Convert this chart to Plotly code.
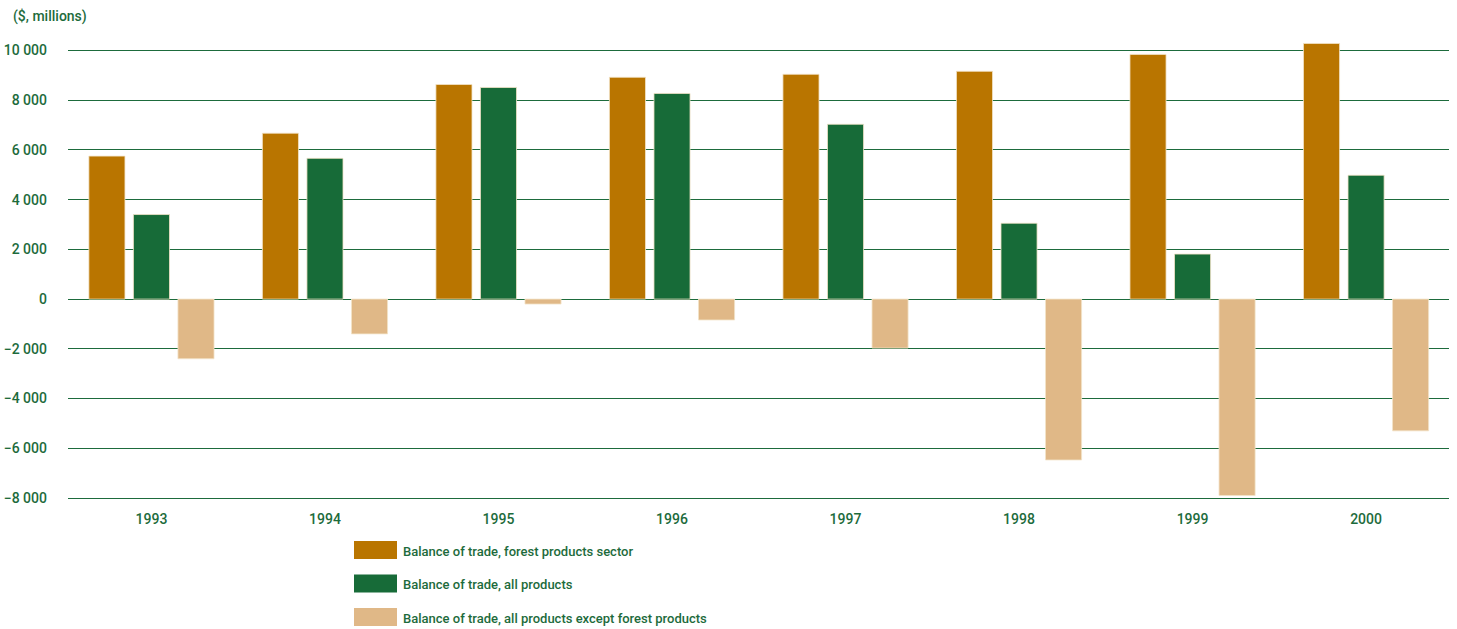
import plotly.graph_objects as go

years = ["1993", "1994", "1995", "1996", "1997", "1998", "1999", "2000"]
forest_sector = [5750, 6670, 8630, 8920, 9040, 9160, 9840, 10280]
all_products = [3400, 5660, 8510, 8270, 7030, 3050, 1810, 4980]
except_forest = [-2400, -1400, -200, -840, -1970, -6470, -7900, -5300]

series_names = [
    "Balance of trade, forest products sector",
    "Balance of trade, all products",
    "Balance of trade, all products except forest products",
]

y_ticks = [-8000, -6000, -4000, -2000, 0, 2000, 4000, 6000, 8000, 10000]
y_ticktext = ["\u22128 000", "\u22126 000", "\u22124 000", "\u22122 000", "0",
              "2 000", "4 000", "6 000", "8 000", "10 000"]

colors = ["#b97500", "#176b38", "#e0b887"]
green_text = "#1d6b3c"
font_family = "Roboto, sans-serif"
fnt = dict(size=14, color=green_text, family=font_family, weight=500)
legend_fnt = dict(fnt, size=13)

fig = go.Figure()
for name, vals, col in zip(series_names, [forest_sector, all_products, except_forest], colors):
    fig.add_trace(go.Bar(
        x=years, y=vals, name=name,
        marker=dict(color=col, line=dict(color="#f3e3c8", width=0.8)),
        showlegend=False,
    ))

# legend drawn as big swatches like the original
for i, (name, col) in enumerate(zip(series_names, colors)):
    y0 = 541 + i * 33.5
    fig.add_shape(type="rect", xref="paper", yref="paper",
                  x0=(354 - 68) / 1381, x1=(397 - 68) / 1381,
                  y0=1 - (y0 + 18 - 38) / 460, y1=1 - (y0 - 38) / 460,
                  fillcolor=col, line=dict(width=0))
    fig.add_annotation(text=name, xref="paper", yref="paper",
                       x=(401 - 68) / 1381, y=1 - (y0 + 10 - 38) / 460,
                       xanchor="left", yanchor="middle", showarrow=False,
                       font=legend_fnt)

fig.add_annotation(text="($, millions)", xref="paper", yref="paper",
                   x=-(68 - 11) / 1381, y=1 - (17 - 38) / 460,
                   xanchor="left", yanchor="middle", showarrow=False,
                   font=fnt)

fig.update_layout(
    width=1457, height=629,
    margin=dict(l=68, r=8, t=38, b=131),
    paper_bgcolor="white", plot_bgcolor="white",
    barmode="group", bargap=0.23, bargroupgap=0.19,
    font=fnt,
)
fig.update_xaxes(range=[-0.481, 7.478], showgrid=False, showline=True,
                 linecolor="#1d6b3c", linewidth=1,
                 ticks="", ticklabelstandoff=8, automargin=False, tickfont=fnt)
fig.update_yaxes(range=[-8000, 10500], tickvals=y_ticks, ticktext=y_ticktext,
                 showgrid=True, gridcolor="#1d6b3c", gridwidth=1,
                 zeroline=True, zerolinecolor="#1d6b3c", zerolinewidth=1,
                 showline=False, ticks="", ticklabelstandoff=20,
                 automargin=False, tickfont=fnt)

# the page body has a default 8px margin; drop it so the figure fills the window
fig.write_html("out.html", config={"displayModeBar": False},
               post_script="document.body.style.margin='0';")
